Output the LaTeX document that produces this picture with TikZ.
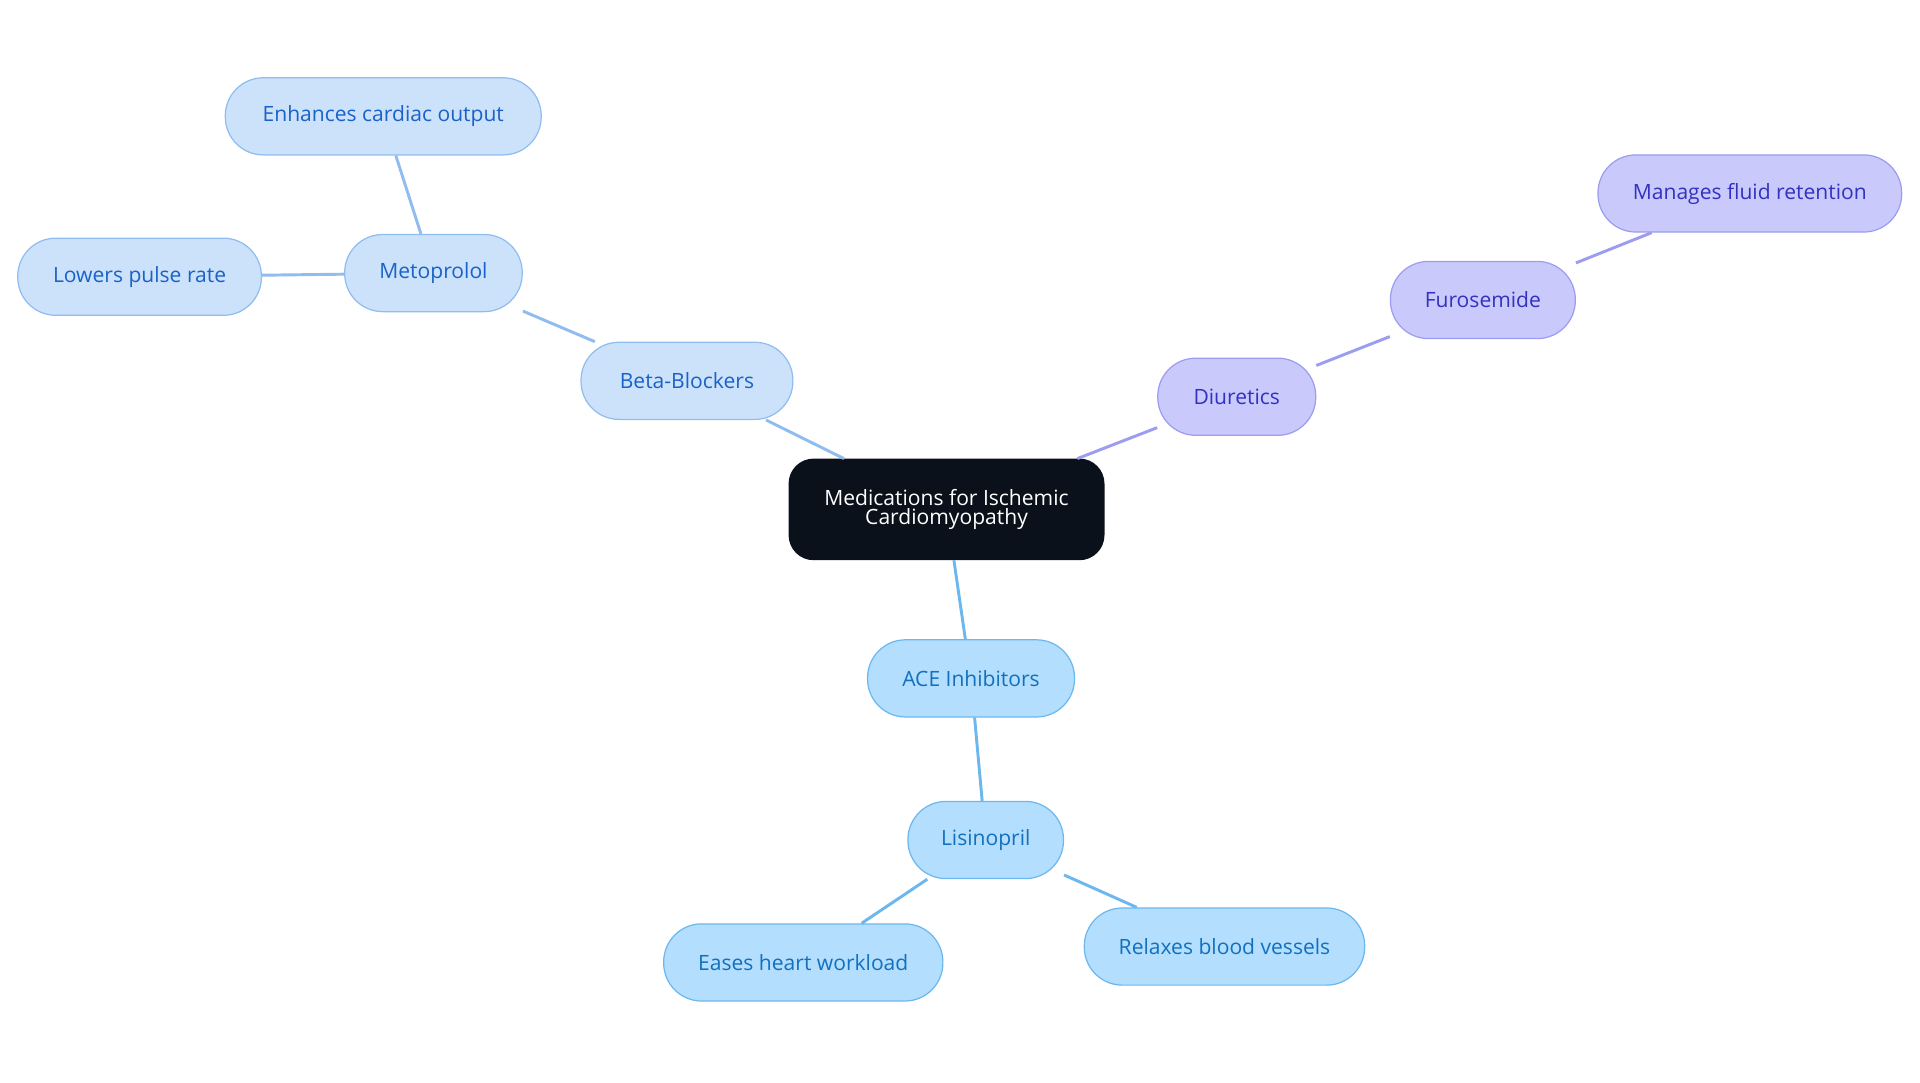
\documentclass[tikz,border=0pt]{standalone}
\usepackage{fontspec}
\setmainfont{Open Sans}
\usetikzlibrary{positioning}
\definecolor{rootfill}{HTML}{0B111B}
\definecolor{bbfill}{HTML}{CCE2FA}
\definecolor{bbline}{HTML}{90BDF0}
\definecolor{bbtext}{HTML}{1A62C8}
\definecolor{acefill}{HTML}{B4DEFD}
\definecolor{aceline}{HTML}{6CB8EE}
\definecolor{acetext}{HTML}{1270BE}
\definecolor{difill}{HTML}{C9C9FC}
\definecolor{diline}{HTML}{9C9CF0}
\definecolor{ditext}{HTML}{3232C0}
\begin{document}
\begin{tikzpicture}[x=0.5pt, y=-0.5pt]

	\tikzstyle{pill}=[draw, rounded corners=15.5pt, minimum height=31.5pt, inner sep=0pt, font=\fontsize{8.6}{10}\selectfont, line width=0.5pt]
	\tikzstyle{bb}=[pill, fill=bbfill, draw=bbline, text=bbtext]
	\tikzstyle{ace}=[pill, fill=acefill, draw=aceline, text=acetext]
	\tikzstyle{di}=[pill, fill=difill, draw=diline, text=ditext]
	\tikzstyle{lnk}=[line width=1.2pt]

	\useasboundingbox (0,0) rectangle (1568,884);

	\node[pill, fill=rootfill, draw=rootfill, text=white, rounded corners=10pt, minimum width=128.5pt, minimum height=41pt, align=center] (root) at (773,416) {Medications for Ischemic\\[-2pt]Cardiomyopathy};

	\node[bb, minimum width=86.5pt] (beta) at (561,311) {Beta-Blockers};
	\node[bb, minimum width=72.5pt] (meto) at (354,223) {Metoprolol};
	\node[bb, minimum width=129pt] (card) at (313,95) {Enhances cardiac output};
	\node[bb, minimum width=99.5pt] (pulse) at (114,226) {Lowers pulse rate};

	\node[di, minimum width=64.5pt] (diur) at (1010,324) {Diuretics};
	\node[di, minimum width=75.5pt] (furo) at (1211,245) {Furosemide};
	\node[di, minimum width=124pt] (fluid) at (1429,158) {Manages fluid retention};

	\node[ace, minimum width=84.5pt] (acei) at (793,554) {ACE Inhibitors};
	\node[ace, minimum width=63.5pt] (lisi) at (805,686) {Lisinopril};
	\node[ace, minimum width=114pt] (ease) at (656,786) {Eases heart workload};
	\node[ace, minimum width=114.5pt] (relax) at (1000,773) {Relaxes blood vessels};

	\draw[lnk, bbline] (root) -- (beta) -- (meto) -- (card);
	\draw[lnk, bbline] (meto) -- (pulse);
	\draw[lnk, diline] (root) -- (diur) -- (furo) -- (fluid);
	\draw[lnk, aceline] (root) -- (acei) -- (lisi) -- (ease);
	\draw[lnk, aceline] (lisi) -- (relax);

\end{tikzpicture}
\end{document}
